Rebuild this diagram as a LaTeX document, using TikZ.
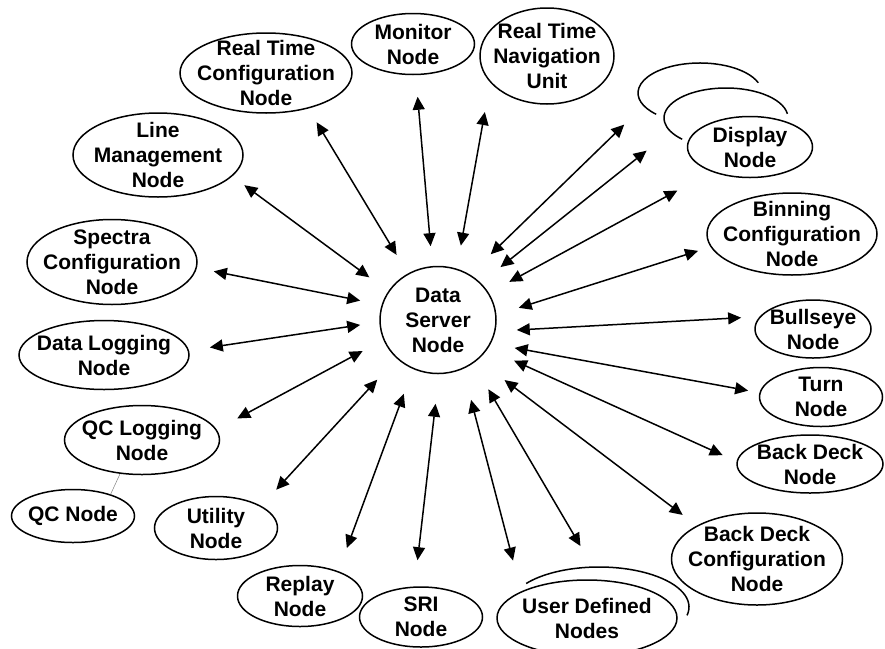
\documentclass[tikz,border=0pt]{standalone}
\usepackage{fontspec}
\setmainfont{Liberation Sans}
\usetikzlibrary{shapes.geometric,arrows.meta}

\begin{document}
\begin{tikzpicture}[x=1pt,y=-1pt,line width=1.5pt,>={Triangle[length=13pt,width=12pt]}]
	\tikzstyle{every node}=[ellipse,align=center,inner sep=-12pt,font=\bfseries\fontsize{21}{25}\selectfont]
	\tikzset{unit/.style={draw}}
	\tikzset{link/.style={<->}}
	\useasboundingbox (0,0) rectangle (885,648);

	% hub
	\node[unit,minimum width=116pt,minimum height=107pt] (server) at (438,320) {Data\\Server\\Node};

	% nodes round the hub
	\node[unit,minimum width=172pt,minimum height=80pt] (rtc) at (266,73) {Real Time\\Configuration\\Node};
	\node[unit,minimum width=123pt,minimum height=61pt] (monitor) at (413,44) {Monitor\\Node};
	\node[unit,minimum width=134pt,minimum height=96pt] (rtnu) at (547,56) {Real Time\\Navigation\\Unit};
	\node[minimum width=124pt,minimum height=60pt] (disp3) at (700,93) {};
	\node[minimum width=124pt,minimum height=60pt] (disp2) at (726,118) {};
	\node[unit,minimum width=125pt,minimum height=61pt] (display) at (750,147) {Display\\Node};
	\node[unit,minimum width=170pt,minimum height=82pt] (binning) at (792,234) {Binning\\Configuration\\Node};
	\node[unit,minimum width=116pt,minimum height=58pt] (bullseye) at (813,329) {Bullseye\\Node};
	\node[unit,minimum width=123pt,minimum height=59pt] (turn) at (821,397) {Turn\\Node};
	\node[unit,minimum width=146pt,minimum height=58pt] (backdeck) at (810,464) {Back Deck\\Node};
	\node[unit,minimum width=171pt,minimum height=92pt] (bdconfig) at (757,559) {Back Deck\\Configuration\\Node};
	\node[minimum width=180pt,minimum height=80pt] (userdef2) at (599,607) {};
	\node[unit,minimum width=180pt,minimum height=76pt] (userdef) at (587,618) {User Defined\\Nodes};
	\node[unit,minimum width=123pt,minimum height=60pt] (sri) at (421,617) {SRI\\Node};
	\node[unit,minimum width=125pt,minimum height=61pt] (replay) at (300,596) {Replay\\Node};
	\node[unit,minimum width=123pt,minimum height=63pt] (utility) at (216,528) {Utility\\Node};
	\node[unit,minimum width=123pt,minimum height=53pt] (qc) at (73,516) {QC Node};
	\node[unit,minimum width=155pt,minimum height=69pt] (qclog) at (142,440) {QC Logging\\Node};
	\node[unit,minimum width=170pt,minimum height=69pt] (datalog) at (104,355) {Data Logging\\Node};
	\node[unit,minimum width=170pt,minimum height=85pt] (spectra) at (112,262) {Spectra\\Configuration\\Node};
	\node[unit,minimum width=170pt,minimum height=84pt] (linemgmt) at (158,155) {Line\\Management\\Node};

	% stacked copies behind
	\draw ([shift={(20:62pt and 30pt)}]disp3.center) arc[start angle=20,end angle=225,x radius=62pt,y radius=30pt];
	\draw ([shift={(8:62pt and 30pt)}]disp2.center) arc[start angle=8,end angle=225,x radius=62pt,y radius=30pt];
	\draw ([shift={(144:90pt and 40pt)}]userdef2.center) arc[start angle=144,end angle=-12,x radius=90pt,y radius=40pt];

	\draw[gray,line width=0.5pt] (qclog.237) -- (qc.30);

	% links
	\draw[link,shorten <=21.7pt,shorten >=16pt] (server.123) -- (rtc.-40);
	\draw[link,shorten <=23.4pt,shorten >=14.9pt] (server.150) -- (linemgmt.-16);
	\draw[link,shorten <=21.8pt,shorten >=17.2pt] (server.165) -- (spectra.-4);
	\draw[link,shorten <=19.3pt,shorten >=21pt] (server.182) -- (datalog.3);
	\draw[link,shorten <=23.5pt,shorten >=23.3pt] (server.200) -- (qclog.8);
	\draw[link,shorten <=28.7pt,shorten >=22pt] (server.223) -- (utility.26);
	\draw[link,shorten <=26.4pt,shorten >=24.6pt] (server.243) -- (replay.33);
	\draw[link,shorten <=29.7pt,shorten >=26.4pt] (server.271) -- (sri.102);
	\draw[link,shorten <=31.8pt,shorten >=31.8pt] (server.297) -- (userdef.158);
	\draw[link,shorten <=29.9pt,shorten >=39pt] (server.309) -- (userdef.71);
	\draw[link,shorten <=33.4pt,shorten >=17.6pt] (server.315) -- (bdconfig.151);
	\draw[link,shorten <=28.8pt,shorten >=15.2pt] (server.330) -- (backdeck.178);
	\draw[link,shorten <=24.1pt,shorten >=11.4pt] (server.336) -- (turn.176);
	\draw[link,shorten <=21.3pt,shorten >=18.4pt] (server.349) -- (bullseye.167);
	\draw[link,shorten <=23.3pt,shorten >=13pt] (server.5) -- (binning.189);
	\draw[link,shorten <=23.2pt,shorten >=39pt] (server.28) -- (display.213);
	\draw[link,shorten <=25.2pt,shorten >=30pt] (server.41) -- (disp2.194);
	\draw[link,shorten <=29pt,shorten >=26.5pt] (server.55) -- (disp3.193);
	\draw[link,shorten <=23.3pt,shorten >=30pt] (server.70) -- (rtnu.205);
	\draw[link,shorten <=19.9pt,shorten >=21.6pt] (server.96) -- (monitor.275);
\end{tikzpicture}
\end{document}
